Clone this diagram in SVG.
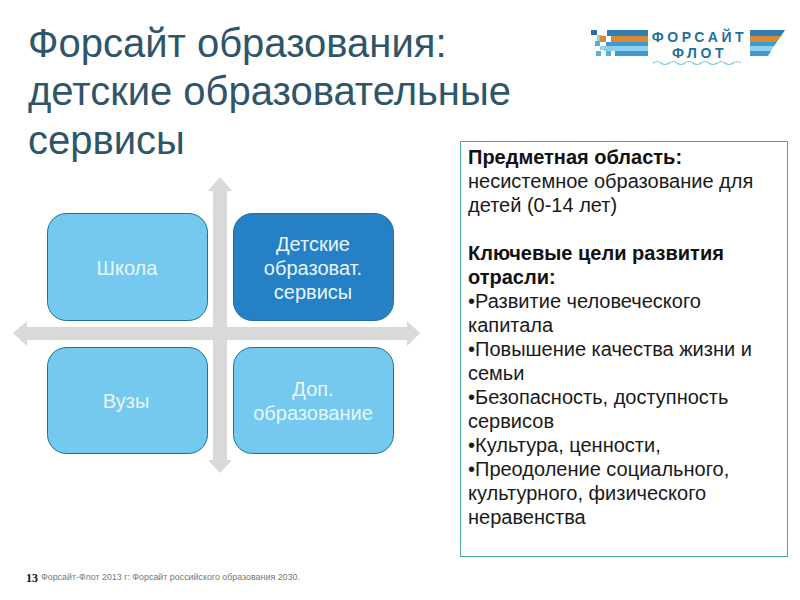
<svg xmlns="http://www.w3.org/2000/svg" width="800" height="600" viewBox="0 0 800 600">
<style>
text{font-family:"Liberation Sans",Arial,sans-serif}
.t{font-size:40px;fill:#2f5568}
.n{font-size:20px;fill:#e8f6fc;text-anchor:middle}
.b{font-size:20px;fill:#1a1a1a}
.bb{font-weight:bold;fill:#111}
.l{fill:#75c9ee;stroke:#1f6f9c;stroke-width:1}
.logo{font-size:14px;font-weight:bold;fill:#1f6f9c;letter-spacing:3.600px;text-anchor:middle}
</style>
<rect width="800" height="600" fill="#ffffff"/>
<g id="title">
<text class="t" x="28" y="56.500">Форсайт образования:</text>
<text class="t" x="28" y="104.500">детские образовательные</text>
<text class="t" x="28" y="153.500">сервисы</text>
</g>
<g id="logo">
<rect x="591" y="30" width="6" height="5" fill="#2f6f9c"/>
<rect x="597" y="35" width="5" height="6" fill="#8fd0ee"/>
<rect x="600" y="36" width="6" height="6" fill="#d98a35"/>
<rect x="595" y="41" width="5" height="5" fill="#5aaedb"/>
<rect x="600" y="46" width="5" height="4" fill="#8fd0ee"/>
<rect x="596" y="51" width="5" height="5" fill="#5aaedb"/>
<rect x="606" y="51" width="5" height="5" fill="#5aaedb"/>
<rect x="607" y="30" width="41" height="6" fill="#2f7fb0"/>
<rect x="611" y="36" width="37" height="6" fill="#d98a35"/>
<rect x="606" y="42" width="42" height="4" fill="#3f9ad0"/>
<rect x="604" y="46" width="44" height="5" fill="#8fd0ee"/>
<rect x="615" y="51" width="33" height="5" fill="#3f9ad0"/>
<polygon points="750,30 785,30 781,36 750,36" fill="#2f7fb0"/>
<polygon points="750,36 781,36 777,42 750,42" fill="#d98a35"/>
<polygon points="750,42 777,42 774,46 750,46" fill="#3f9ad0"/>
<polygon points="750,46 774,46 771,51 750,51" fill="#8fd0ee"/>
<polygon points="750,51 771,51 768,56 750,56" fill="#3f9ad0"/>
<text class="logo" x="699.500" y="41.500">ФОРСАЙТ</text>
<text class="logo" x="699.500" y="57.500">ФЛОТ</text>
<path d="M653,63 q4,-3 8,0 t8,0 t8,0 t8,0 t8,0 t8,0 t8,0 t8,0 t8,0 t8,0 t8,0" fill="none" stroke="#7fc4e4" stroke-width="1.2"/>
</g>
<g id="connectors">
<polygon points="220,177 232,191 227,191 227,460 232,460 220,473 208,460 213,460 213,191 208,191" fill="#d9d9d9"/>
<polygon points="13,333 27,321 27,327 407,327 407,321 420,333 407,346 407,340 27,340 27,346" fill="#d9d9d9"/>
</g>
<g id="school">
<rect class="l" x="47.500" y="213.500" width="160" height="107" rx="19"/>
<text class="n" x="127" y="275">Школа</text>
</g>
<g id="kids">
<rect x="233.500" y="213.500" width="160" height="107" rx="19" fill="#2580c6" stroke="#1f6f9c"/>
<text class="n" x="313" y="251">Детские</text>
<text class="n" x="313" y="275">образоват.</text>
<text class="n" x="313" y="299">сервисы</text>
</g>
<g id="univ">
<rect class="l" x="47.500" y="347.500" width="160" height="106" rx="19"/>
<text class="n" x="126" y="408">Вузы</text>
</g>
<g id="extra">
<rect class="l" x="233.500" y="347.500" width="160" height="106" rx="19"/>
<text class="n" x="313" y="396">Доп.</text>
<text class="n" x="313" y="420">образование</text>
</g>
<g id="infobox">
<rect x="460.500" y="141.500" width="327" height="415" fill="#ffffff" stroke="#4ba3ad"/>
<text class="b bb" x="468" y="164">Предметная область:</text>
<text class="b" x="468" y="188">несистемное образование для</text>
<text class="b" x="468" y="212">детей (0-14 лет)</text>
<text class="b bb" x="468" y="260">Ключевые цели развития</text>
<text class="b bb" x="468" y="284">отрасли:</text>
<text class="b" x="468" y="308">•Развитие человеческого</text>
<text class="b" x="468" y="332">капитала</text>
<text class="b" x="468" y="356">•Повышение качества жизни и</text>
<text class="b" x="468" y="380">семьи</text>
<text class="b" x="468" y="404">•Безопасность, доступность</text>
<text class="b" x="468" y="428">сервисов</text>
<text class="b" x="468" y="452">•Культура, ценности,</text>
<text class="b" x="468" y="476">•Преодоление социального,</text>
<text class="b" x="468" y="500">культурного, физического</text>
<text class="b" x="468" y="524">неравенства</text>
</g>
<g id="footer">
<text x="26" y="582" style="font-family:'Liberation Serif',serif;font-size:12px;font-weight:bold;fill:#111">13</text>
<text x="41" y="580" style="font-size:8.900px;fill:#777">Форсайт-Флот 2013 г: Форсайт российского образования 2030.</text>
</g>
</svg>
